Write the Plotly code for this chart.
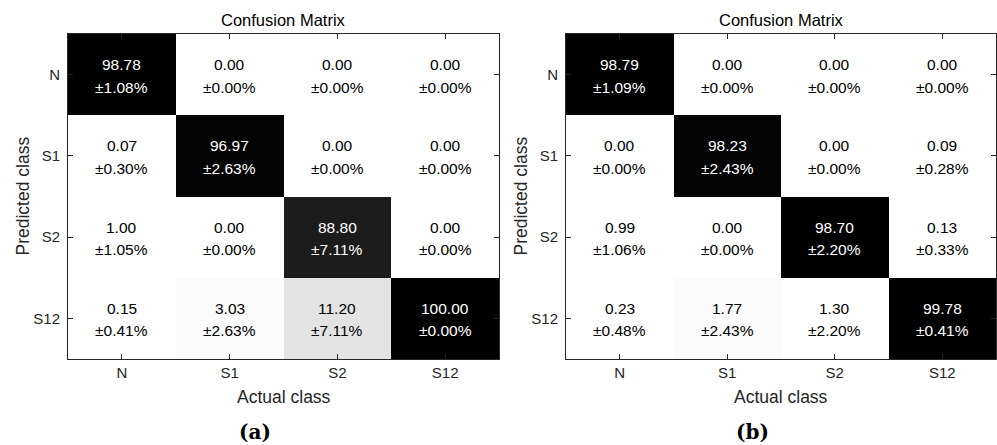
import plotly.graph_objects as go

W, H = 997, 445

classes = ["N", "S1", "S2", "S12"]

# rows = predicted class, columns = actual class (percent)
mean_a = [[98.78, 0.00, 0.00, 0.00],
          [0.07, 96.97, 0.00, 0.00],
          [1.00, 0.00, 88.80, 0.00],
          [0.15, 3.03, 11.20, 100.00]]
std_a = [[1.08, 0.00, 0.00, 0.00],
         [0.30, 2.63, 0.00, 0.00],
         [1.05, 0.00, 7.11, 0.00],
         [0.41, 2.63, 7.11, 0.00]]

mean_b = [[98.79, 0.00, 0.00, 0.00],
          [0.00, 98.23, 0.00, 0.09],
          [0.99, 0.00, 98.70, 0.13],
          [0.23, 1.77, 1.30, 99.78]]
std_b = [[1.09, 0.00, 0.00, 0.00],
         [0.00, 2.43, 0.00, 0.28],
         [1.06, 0.00, 2.20, 0.33],
         [0.48, 2.43, 2.20, 0.41]]

panels = [("(a)", mean_a, std_a), ("(b)", mean_b, std_b)]

FONT = "Liberation Sans, Arial, sans-serif"
AX = "#262626"

# 64-level inverted gray colormap (white -> black), stepped bins
N_LEVELS = 64
gray_scale = []
for k in range(N_LEVELS):
    g = round(255 * (N_LEVELS - 1 - k) / (N_LEVELS - 1))
    col = f"rgb({g},{g},{g})"
    gray_scale.append([k / N_LEVELS, col])
    gray_scale.append([(k + 1) / N_LEVELS, col])

# plot-area boxes in pixels: (left, right)
boxes = [(68, 499), (566, 996)]
top_px, bot_px = 34, 359


def px_x(v):
    return v / W


def px_y(v):
    return 1 - v / H


fig = go.Figure()
annotations = []

for i, (tag, mean, std) in enumerate(panels):
    xa = "x" if i == 0 else "x2"
    ya = "y" if i == 0 else "y2"
    fig.add_trace(go.Heatmap(
        z=mean, x=classes, y=classes,
        zmin=0, zmax=100,
        colorscale=gray_scale,
        showscale=False, hoverinfo="skip",
        xaxis=xa, yaxis=ya,
    ))
    for r, pred in enumerate(classes):
        for c, act in enumerate(classes):
            v = mean[r][c]
            cell_font = dict(family=FONT, size=15.5,
                             color="#ffffff" if v > 50 else "#000000")
            annotations.append(dict(
                x=act, y=pred, xref=xa, yref=ya,
                text=f"{v:.2f}", showarrow=False, yshift=10,
                font=cell_font,
            ))
            annotations.append(dict(
                x=act, y=pred, xref=xa, yref=ya,
                text=f"±{std[r][c]:.2f}%", showarrow=False, yshift=-12.5,
                font=cell_font,
            ))
    left, right = boxes[i]
    cx = (left + right) / 2
    annotations.append(dict(
        x=px_x(cx), y=px_y(20), xref="paper", yref="paper",
        text="Confusion Matrix", showarrow=False,
        font=dict(family=FONT, size=16.5, color="#000000"),
        xanchor="center", yanchor="middle",
    ))
    annotations.append(dict(
        x=px_x(cx), y=px_y(397), xref="paper", yref="paper",
        text="Actual class", showarrow=False,
        font=dict(family=FONT, size=17.5, color=AX),
        xanchor="center", yanchor="middle",
    ))
    annotations.append(dict(
        x=px_x(left - 46), y=px_y((top_px + bot_px) / 2),
        xref="paper", yref="paper",
        text="Predicted class", showarrow=False, textangle=-90,
        font=dict(family=FONT, size=17.5, color=AX),
        xanchor="center", yanchor="middle",
    ))
    annotations.append(dict(
        x=px_x(cx - 29), y=px_y(432), xref="paper", yref="paper",
        text=f"<b>{tag}</b>", showarrow=False,
        font=dict(family="DejaVu Serif, serif", size=20, color="#000000"),
        xanchor="center", yanchor="middle",
    ))

axis_common = dict(
    type="category", showgrid=False, zeroline=False,
    showline=True, linecolor=AX, linewidth=1, mirror="ticks",
    ticks="inside", ticklen=5, tickwidth=1, tickcolor=AX,
    tickfont=dict(family=FONT, size=15, color=AX),
    layer="above traces",
)

for i in range(2):
    left, right = boxes[i]
    sfx = "" if i == 0 else "2"
    fig.update_layout(**{
        f"xaxis{sfx}": dict(axis_common, domain=[px_x(left), px_x(right)],
                            anchor=f"y{sfx}", range=[-0.5, 3.5],
                            categoryorder="array", categoryarray=classes),
        f"yaxis{sfx}": dict(axis_common, domain=[px_y(bot_px), px_y(top_px)],
                            anchor=f"x{sfx}", range=[3.5, -0.5],
                            categoryorder="array", categoryarray=classes,
                            ticklabelstandoff=4),
    })

fig.update_layout(
    width=W, height=H,
    margin=dict(l=0, r=0, t=0, b=0),
    paper_bgcolor="#ffffff", plot_bgcolor="#ffffff",
    annotations=annotations,
    showlegend=False,
)

fig.write_html("out.html")
